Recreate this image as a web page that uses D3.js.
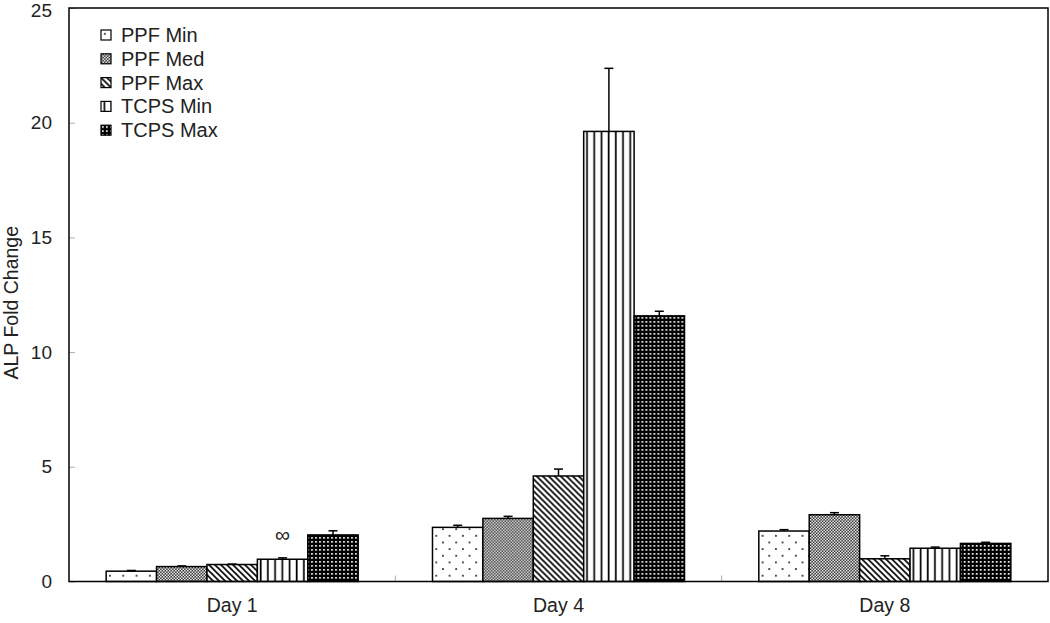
<!DOCTYPE html>
<html>
<head>
<meta charset="utf-8">
<script src="https://cdn.jsdelivr.net/npm/d3@7"></script>
<style>
  body { margin: 0; background: #fff; }
  svg { display: block; font-family: "Liberation Sans", Arial, sans-serif; }
</style>
</head>
<body>
<svg id="chart" width="1050" height="623"></svg>
<script>
const days = ["Day 1", "Day 4", "Day 8"];
const seriesNames = ["PPF Min", "PPF Med", "PPF Max", "TCPS Min", "TCPS Max"];
const ppfMin  = [0.45, 2.36, 2.20];
const ppfMed  = [0.65, 2.75, 2.91];
const ppfMax  = [0.74, 4.60, 0.99];
const tcpsMin = [0.97, 19.62, 1.45];
const tcpsMax = [2.03, 11.58, 1.66];
const ppfMinErr  = [0.03, 0.09, 0.06];
const ppfMedErr  = [0.03, 0.09, 0.09];
const ppfMaxErr  = [0.02, 0.30, 0.13];
const tcpsMinErr = [0.06, 2.75, 0.05];
const tcpsMaxErr = [0.18, 0.20, 0.05];
const yTicks = [0, 5, 10, 15, 20, 25];
const markers = [{day: "Day 1", series: "TCPS Min", text: "∞"}];

const values = [ppfMin, ppfMed, ppfMax, tcpsMin, tcpsMax];
const errors = [ppfMinErr, ppfMedErr, ppfMaxErr, tcpsMinErr, tcpsMaxErr];
const patternIds = ["pDots", "pChecker", "pDiag", "pVert", "pGrid"];

const svg = d3.select("#chart");
const plotLeft = 69, plotRight = 1048, plotTop = 8, plotBottom = 581.5;

const x0 = d3.scaleBand().domain(days).range([plotLeft, plotRight]).paddingInner(0.2277).paddingOuter(0.2277 / 2);
const x1 = d3.scaleBand().domain(seriesNames).range([0, x0.bandwidth()]).padding(0);
const y = d3.scaleLinear().domain([0, 25]).range([plotBottom, plotTop]);

// patterns
const defs = svg.append("defs");
let p = defs.append("pattern").attr("id", "pDots").attr("patternUnits", "userSpaceOnUse").attr("width", 13.3).attr("height", 13.3);
p.append("rect").attr("width", 13.3).attr("height", 13.3).attr("fill", "#fff");
p.append("rect").attr("x", 3).attr("y", 3).attr("width", 1.6).attr("height", 1.6).attr("fill", "#000");
p.append("rect").attr("x", 9.65).attr("y", 9.65).attr("width", 1.6).attr("height", 1.6).attr("fill", "#000");
p = defs.append("pattern").attr("id", "pChecker").attr("patternUnits", "userSpaceOnUse").attr("width", 3).attr("height", 3);
p.append("rect").attr("width", 3).attr("height", 3).attr("fill", "#222");
p.append("rect").attr("x", 0).attr("y", 0).attr("width", 1.5).attr("height", 1.5).attr("fill", "#fff");
p.append("rect").attr("x", 1.5).attr("y", 1.5).attr("width", 1.5).attr("height", 1.5).attr("fill", "#fff");
p = defs.append("pattern").attr("id", "pDiag").attr("patternUnits", "userSpaceOnUse").attr("width", 6).attr("height", 6);
p.append("rect").attr("width", 6).attr("height", 6).attr("fill", "#fff");
p.append("path").attr("d", "M-1,-1 L7,7 M-1,5 L1,7 M5,-1 L7,1").attr("stroke", "#000").attr("stroke-width", 1.6);
p = defs.append("pattern").attr("id", "pVert").attr("patternUnits", "userSpaceOnUse").attr("width", 7.2).attr("height", 4);
p.append("rect").attr("width", 7.2).attr("height", 4).attr("fill", "#fff");
p.append("rect").attr("x", 2.5).attr("width", 1.7).attr("height", 4).attr("fill", "#000");
p = defs.append("pattern").attr("id", "pGrid").attr("patternUnits", "userSpaceOnUse").attr("width", 4).attr("height", 4);
p.append("rect").attr("width", 4).attr("height", 4).attr("fill", "#000");
p.append("rect").attr("x", 1).attr("y", 1).attr("width", 1.7).attr("height", 1.7).attr("fill", "#fff");

// y ticks (inward, gray)
const yAxis = svg.append("g").attr("transform", `translate(${plotLeft},0)`)
  .call(d3.axisLeft(y).tickValues(yTicks).tickSize(-6).tickPadding(17).tickFormat(d3.format("d")));
yAxis.select(".domain").remove();
yAxis.selectAll(".tick line").attr("stroke", "#b0b0b0").attr("stroke-width", 1);
yAxis.selectAll(".tick text").attr("font-size", 19).attr("fill", "#222").attr("font-family", "Liberation Sans, Arial, sans-serif")
  .attr("dy", d => d === 25 ? "0.45em" : "0.32em");

// x category boundary ticks
const boundaries = days.slice(1).map(d => x0(d) - x0.step() * x0.paddingInner() / 2);
svg.append("g").selectAll("line").data(boundaries).join("line")
  .attr("x1", d => d).attr("x2", d => d).attr("y1", plotBottom).attr("y2", plotBottom - 6)
  .attr("stroke", "#b0b0b0").attr("stroke-width", 1);

// x labels
const xAxis = svg.append("g").attr("transform", `translate(0,${plotBottom})`)
  .call(d3.axisBottom(x0).tickSize(0).tickPadding(17));
xAxis.select(".domain").remove();
xAxis.selectAll(".tick text").attr("font-size", 19.5).attr("fill", "#222").attr("font-family", "Liberation Sans, Arial, sans-serif");

// bars
const groups = svg.append("g").selectAll("g").data(days).join("g")
  .attr("transform", d => `translate(${x0(d)},0)`);
groups.each(function(day, di) {
  const g = d3.select(this);
  seriesNames.forEach((s, si) => {
    const v = values[si][di], e = errors[si][di];
    const bx = x1(s), bw = x1.bandwidth();
    g.append("rect").attr("x", bx).attr("y", y(v)).attr("width", bw).attr("height", y(0) - y(v))
      .attr("fill", `url(#${patternIds[si]})`).attr("stroke", "#000").attr("stroke-width", 1.5);
    const cx = bx + bw / 2;
    g.append("line").attr("x1", cx).attr("x2", cx).attr("y1", y(v)).attr("y2", y(v + e))
      .attr("stroke", "#000").attr("stroke-width", 1.5);
    g.append("line").attr("x1", cx - 4.5).attr("x2", cx + 4.5).attr("y1", y(v + e)).attr("y2", y(v + e))
      .attr("stroke", "#000").attr("stroke-width", 1.5);
  });
});

// markers
markers.forEach(m => {
  const di = days.indexOf(m.day), si = seriesNames.indexOf(m.series);
  const t = values[si][di] + errors[si][di];
  svg.append("text").attr("x", x0(m.day) + x1(m.series) + x1.bandwidth() / 2).attr("y", y(t) - 16)
    .attr("text-anchor", "middle").attr("font-size", 21).attr("fill", "#222").text(m.text);
});

// frame
svg.append("rect").attr("x", plotLeft).attr("y", plotTop).attr("width", plotRight - plotLeft).attr("height", plotBottom - plotTop)
  .attr("fill", "none").attr("stroke", "#000").attr("stroke-width", 1.5);

// y title
svg.append("text").attr("transform", `translate(18,${(plotTop + plotBottom) / 2 + 8}) rotate(-90)`)
  .attr("text-anchor", "middle").attr("font-size", 19.5).attr("fill", "#222").text("ALP Fold Change");

// legend
const legend = svg.append("g").attr("transform", "translate(101,30)");
seriesNames.forEach((s, i) => {
  const row = legend.append("g").attr("transform", `translate(0,${i * 23.8})`);
  row.append("rect").attr("x", 0).attr("y", 0).attr("width", 10).attr("height", 10)
    .attr("fill", `url(#${patternIds[i]})`).attr("stroke", "#000").attr("stroke-width", 1.2);
  row.append("text").attr("x", 20).attr("y", 12).attr("font-size", 20).attr("fill", "#222").text(s);
});
</script>
</body>
</html>
